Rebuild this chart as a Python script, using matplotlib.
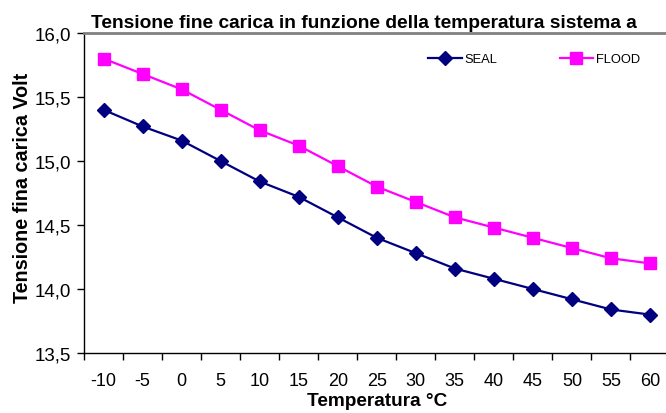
import matplotlib
matplotlib.use("Agg")
import matplotlib.pyplot as plt
from matplotlib.ticker import FuncFormatter, FixedLocator

plt.rcParams['font.family'] = ['Liberation Sans', 'DejaVu Sans']

temperatures = [-10, -5, 0, 5, 10, 15, 20, 25, 30, 35, 40, 45, 50, 55, 60]
seal = [15.40, 15.27, 15.16, 15.00, 14.84, 14.72, 14.56, 14.40, 14.28, 14.16, 14.08, 14.00, 13.92, 13.84, 13.80]
flood = [15.80, 15.68, 15.56, 15.40, 15.24, 15.12, 14.96, 14.80, 14.68, 14.56, 14.48, 14.40, 14.32, 14.24, 14.20]

W, H = 666, 414
fig = plt.figure(figsize=(W / 100, H / 100), dpi=100)
left, right, top, bottom = 84, 669.5, 34, 354
aw, ah = right - left, bottom - top
ax = fig.add_axes([left / W, 1 - bottom / H, aw / W, ah / H])

x = list(range(len(temperatures)))
ax.plot(x, seal, color='#000080', marker='D', markersize=7.5, linewidth=1.6, label='SEAL', clip_on=False)
ax.plot(x, flood, color='#FF00FF', marker='s', markersize=8, linewidth=1.6, label='FLOOD', clip_on=False)

ax.set_xlim(-0.5, len(temperatures) - 0.5)
ax.set_ylim(13.5, 16.0)
ax.set_xticks(x)
ax.set_xticklabels([str(t) for t in temperatures])
ax.xaxis.set_minor_locator(FixedLocator([i - 0.5 for i in range(len(temperatures) + 1)]))
ax.tick_params(axis='x', which='major', length=0, pad=14, labelsize=13)
ax.tick_params(axis='x', which='minor', length=5, width=1, direction='out')
ax.set_yticks([13.5, 14.0, 14.5, 15.0, 15.5, 16.0])
ax.yaxis.set_major_formatter(FuncFormatter(lambda v, p: f"{v:.1f}".replace('.', ',')))
ax.tick_params(axis='y', length=5, width=1, direction='out', labelsize=13.5, pad=4)

ax.spines['right'].set_visible(False)
ax.spines['top'].set_color('#808080')
ax.spines['top'].set_linewidth(2)
ax.spines['left'].set_linewidth(1)
ax.spines['bottom'].set_linewidth(1)

ax.set_xlabel('Temperatura °C', fontsize=13.7, fontweight='bold', labelpad=2)
ax.set_ylabel('Tensione fina carica Volt', fontsize=14.2, fontweight='bold')
ax.yaxis.set_label_coords((32 - left) / aw, 1 - (187.5 - top) / ah)

fig.text(91 / W, 1 - 28 / H, 'Tensione fine carica in funzione della temperatura sistema a',
         fontsize=13.8, fontweight='bold', ha='left', va='baseline')

leg = ax.legend(loc='center left', bbox_to_anchor=((428 - left) / aw, 1 - (60 - top) / ah),
                ncol=2, frameon=False, fontsize=9.3, handlelength=2.6, columnspacing=4.8,
                borderaxespad=0, borderpad=0, handletextpad=0.25)

fig.savefig('out.png', dpi=100)
